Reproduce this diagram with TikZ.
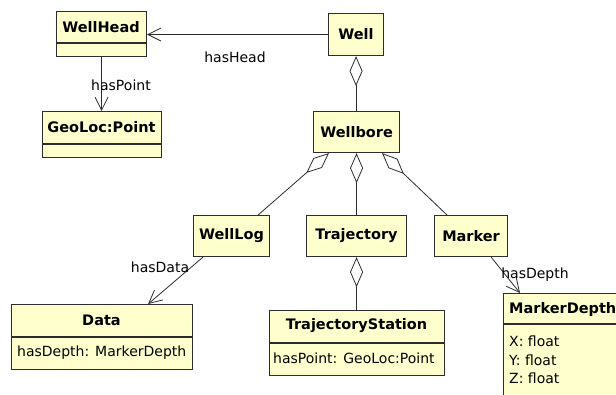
\documentclass[tikz,border=0pt]{standalone}
\usepackage{fontspec}
\setmainfont{DejaVu Sans}
\usetikzlibrary{arrows.meta,calc}
\definecolor{umlfill}{RGB}{255,255,206}
\definecolor{umlline}{RGB}{45,45,45}
\tikzset{
  cls/.style={draw=umlline, fill=umlfill, line width=1.1pt, inner sep=0pt, anchor=north west},
  ttl/.style={font=\bfseries\fontsize{14.5}{17}\selectfont, inner sep=0pt},
  attr/.style={font=\fontsize{14}{16}\selectfont, inner sep=0pt, anchor=west},
  lbl/.style={font=\fontsize{14}{16}\selectfont, inner sep=0pt},
  sepline/.style={draw=umlline, line width=1.1pt},
  assoc/.style={draw=umlline, line width=0.8pt, -{Straight Barb[length=13pt,width=13pt]}},
  aggr/.style={draw=umlline, line width=0.8pt, {Diamond[open,length=30pt,width=13pt]}-},
}
\begin{document}
\begin{tikzpicture}[x=1pt,y=-1pt]
\useasboundingbox (0,0) rectangle (616,394);
\fill[white] (0,0) rectangle (616,394);
\clip (0,0) rectangle (616,394);

% classes
\node[cls, minimum width=90pt, minimum height=45pt] (wellhead) at (56,11) {};
\node[ttl] (wellheadT) at (101,27) {WellHead};
\draw[sepline] (wellhead.west |- 0,43) -- (wellhead.east |- 0,43);

\node[cls, minimum width=55pt, minimum height=42pt] (well) at (328,13) {};
\node[ttl] (wellT) at (well.center) {Well};

\node[cls, minimum width=119pt, minimum height=46pt] (geoloc) at (42,111) {};
\node[ttl] (geolocT) at (101.5,127) {GeoLoc:Point};
\draw[sepline] (geoloc.west |- 0,144) -- (geoloc.east |- 0,144);

\node[cls, minimum width=86pt, minimum height=41pt] (wellbore) at (313,111) {};
\node[ttl] (wellboreT) at (wellbore.center) {Wellbore};

\node[cls, minimum width=76pt, minimum height=41pt] (welllog) at (193,215) {};
\node[ttl] (welllogT) at (welllog.center) {WellLog};

\node[cls, minimum width=100pt, minimum height=41pt] (trajectory) at (306,215) {};
\node[ttl] (trajectoryT) at (trajectory.center) {Trajectory};

\node[cls, minimum width=73pt, minimum height=41pt] (marker) at (434,215) {};
\node[ttl] (markerT) at (marker.center) {Marker};

\node[cls, minimum width=181pt, minimum height=65pt] (data) at (11,304) {};
\node[ttl] (dataT) at (101.5,320) {Data};
\draw[sepline] (data.west |- 0,337) -- (data.east |- 0,337);
\node[attr] (dataA) at (17,353) {hasDepth: MarkerDepth};

\node[cls, minimum width=175pt, minimum height=65pt] (trajst) at (269,310) {};
\node[ttl] (trajstT) at (356.5,326) {TrajectoryStation};
\draw[sepline] (trajst.west |- 0,343) -- (trajst.east |- 0,343);
\node[attr] (trajstA) at (273,358) {hasPoint: GeoLoc:Point};

\node[cls, minimum width=140pt, minimum height=120pt] (mdepth) at (503,293) {};
\node[ttl, anchor=west] (mdepthT) at (509,309) {MarkerDepth};
\draw[sepline] (mdepth.west |- 0,324) -- (mdepth.east |- 0,324);
\node[attr] (mdX) at (509,341) {X: float};
\node[attr] (mdY) at (509,360) {Y: float};
\node[attr] (mdZ) at (509,378) {Z: float};

% associations
\draw[assoc] (well.west) -- (wellhead.east |- well.west);
\node[lbl] (lHead) at (235,57) {hasHead};
\draw[assoc] (wellhead.south) -- (geoloc.north -| wellhead.south);
\node[lbl] (lPoint) at (121,85) {hasPoint};
\draw[assoc] ([xshift=10pt]welllog.south west) -- ([xshift=-45pt]data.north east);
\node[lbl] (lData) at (160,267) {hasData};
\draw[assoc] ([xshift=-17pt]marker.south east) -- ([xshift=17pt]mdepth.north west);
\node[lbl] (lDepth) at (535,275) {hasDepth};

% aggregations
\draw[aggr] (well.south) -- (wellbore.north -| well.south);
\draw[aggr] ([xshift=16pt]wellbore.south west) -- ([xshift=-12pt]welllog.north east);
\draw[aggr] (wellbore.south) -- (trajectory.north);
\draw[aggr] ([xshift=-18pt]wellbore.south east) -- ([xshift=13pt]marker.north west);
\draw[aggr] (trajectory.south) -- (trajst.north -| trajectory.south);
\end{tikzpicture}
\end{document}
